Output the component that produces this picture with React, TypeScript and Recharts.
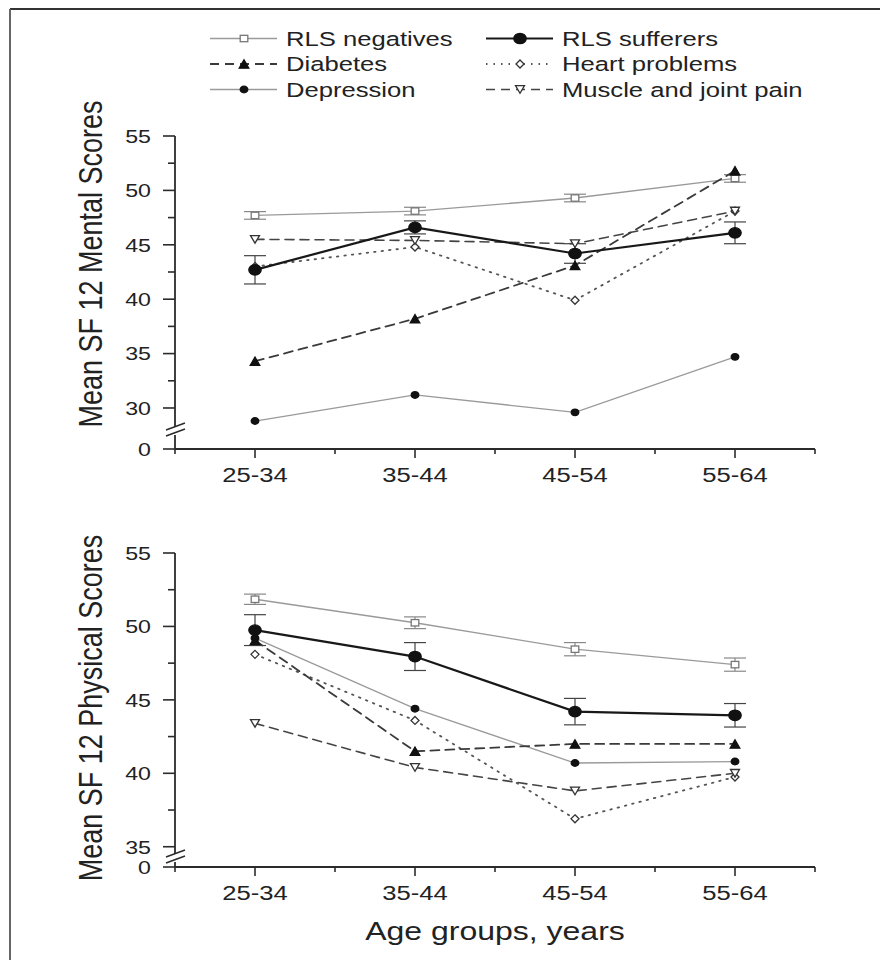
import React from 'react';
import { LineChart, Line, XAxis, YAxis, ErrorBar } from 'recharts';

const ageGroups = ['25-34', '35-44', '45-54', '55-64'];

// Mental SF-12 scores
const mentalNegatives = [47.7, 48.1, 49.3, 51.1];
const mentalNegativesErr = [0.35, 0.35, 0.35, 0.35];
const mentalSufferers = [42.7, 46.6, 44.2, 46.1];
const mentalSufferersErr = [1.3, 0.6, 0.9, 1.0];
const mentalDiabetes = [34.3, 38.2, 43.1, 51.8];
const mentalHeart = [43.0, 44.8, 39.9, 48.1];
const mentalDepression = [28.8, 31.2, 29.6, 34.7];
const mentalMuscle = [45.5, 45.4, 45.1, 48.1];

// Physical SF-12 scores
const physicalNegatives = [51.85, 50.25, 48.45, 47.4];
const physicalNegativesErr = [0.35, 0.4, 0.45, 0.45];
const physicalSufferers = [49.75, 47.95, 44.2, 43.95];
const physicalSufferersErr = [1.05, 0.95, 0.9, 0.8];
const physicalDiabetes = [49.05, 41.5, 42.0, 42.0];
const physicalHeart = [48.1, 43.6, 36.9, 39.75];
const physicalDepression = [49.2, 44.4, 40.7, 40.8];
const physicalMuscle = [43.4, 40.4, 38.8, 40.0];

// y-axis: the lowest tick is the broken "0"
const mentalBreak = 26.23;
const mentalTicks = [mentalBreak, 30, 32.5, 35, 37.5, 40, 42.5, 45, 47.5, 50, 52.5, 55];
const physicalBreak = 33.62;
const physicalTicks = [physicalBreak, 35, 37.5, 40, 42.5, 45, 47.5, 50, 52.5, 55];
const xTicks = [0.5, 1, 1.5, 2, 2.5, 3, 3.5, 4, 4.5];

const FONT = '"Liberation Sans", Arial, Helvetica, sans-serif';
const TEXT = '#222';
const AXIS = '#2b2b2b';
const SX = 1.22;

const buildRows = (
  neg: number[], negErr: number[], suf: number[], sufErr: number[],
  dia: number[], heart: number[], dep: number[], mus: number[]
) =>
  ageGroups.map((g, i) => ({
    x: i + 1,
    group: g,
    negatives: neg[i],
    negativesErr: negErr[i],
    sufferers: suf[i],
    sufferersErr: sufErr[i],
    diabetes: dia[i],
    heart: heart[i],
    depression: dep[i],
    muscle: mus[i],
  }));

const mentalRows = buildRows(mentalNegatives, mentalNegativesErr, mentalSufferers, mentalSufferersErr,
  mentalDiabetes, mentalHeart, mentalDepression, mentalMuscle);
const physicalRows = buildRows(physicalNegatives, physicalNegativesErr, physicalSufferers, physicalSufferersErr,
  physicalDiabetes, physicalHeart, physicalDepression, physicalMuscle);

type Shape = 'square' | 'circle' | 'triangle' | 'down' | 'diamond';

interface SeriesStyle {
  key: string;
  name: string;
  stroke: string;
  width: number;
  dash?: string;
  shape: Shape;
  fill: string;
  mStroke: string;
  rx: number;
  ry: number;
  errKey?: string;
  errColor?: string;
}

const styles: Record<string, SeriesStyle> = {
  negatives: { key: 'negatives', name: 'RLS negatives', stroke: '#9a9a9a', width: 1.3, shape: 'square', fill: '#fff', mStroke: '#777', rx: 3.8, ry: 3.2, errKey: 'negativesErr', errColor: '#888' },
  sufferers: { key: 'sufferers', name: 'RLS sufferers', stroke: '#181818', width: 2.2, shape: 'circle', fill: '#111', mStroke: '#111', rx: 6.2, ry: 5.2, errKey: 'sufferersErr', errColor: '#444' },
  diabetes: { key: 'diabetes', name: 'Diabetes', stroke: '#3a3a3a', width: 1.8, dash: '9 6', shape: 'triangle', fill: '#111', mStroke: '#111', rx: 4.8, ry: 4.2 },
  heart: { key: 'heart', name: 'Heart problems', stroke: '#555', width: 1.8, dash: '1.5 6', shape: 'diamond', fill: '#fff', mStroke: '#333', rx: 4, ry: 4 },
  depression: { key: 'depression', name: 'Depression', stroke: '#9a9a9a', width: 1.3, shape: 'circle', fill: '#111', mStroke: '#111', rx: 3.8, ry: 3.3 },
  muscle: { key: 'muscle', name: 'Muscle and joint pain', stroke: '#444', width: 1.6, dash: '9 6', shape: 'down', fill: '#fff', mStroke: '#333', rx: 4.5, ry: 3.8 },
};

const drawOrder = ['negatives', 'depression', 'heart', 'muscle', 'diabetes', 'sufferers'];
const legendRows = [
  ['negatives', 'sufferers'],
  ['diabetes', 'heart'],
  ['depression', 'muscle'],
];

const Marker = ({ s, cx, cy }: { s: SeriesStyle; cx: number; cy: number }) => {
  const { rx, ry, fill, mStroke } = s;
  const common = { fill, stroke: mStroke, strokeWidth: 1.3 };
  switch (s.shape) {
    case 'square':
      return <rect x={cx - rx} y={cy - ry} width={rx * 2} height={ry * 2} {...common} />;
    case 'circle':
      return <ellipse cx={cx} cy={cy} rx={rx} ry={ry} {...common} />;
    case 'triangle':
      return <polygon points={`${cx},${cy - ry} ${cx + rx},${cy + ry} ${cx - rx},${cy + ry}`} {...common} />;
    case 'down':
      return <polygon points={`${cx - rx},${cy - ry} ${cx + rx},${cy - ry} ${cx},${cy + ry}`} {...common} />;
    case 'diamond':
      return <polygon points={`${cx},${cy - ry} ${cx + rx},${cy} ${cx},${cy + ry} ${cx - rx},${cy}`} {...common} />;
  }
  return null;
};

const makeDot = (s: SeriesStyle) => (props: any) => {
  const { cx, cy, index } = props;
  if (cx == null || cy == null) return <g key={`${s.key}-${index}`} />;
  return (
    <g key={`${s.key}-${index}`}>
      <Marker s={s} cx={cx} cy={cy} />
    </g>
  );
};

const makeYTick = (breakValue: number) => (props: any) => {
  const { x, y, payload } = props;
  const v = payload.value as number;
  const isBreak = Math.abs(v - breakValue) < 1e-6;
  const major = isBreak || Math.abs(v - Math.round(v / 5) * 5) < 1e-6;
  const len = major ? 12 : 7;
  return (
    <g>
      <line x1={x - len} y1={y} x2={x} y2={y} stroke={AXIS} strokeWidth={1.6} />
      {major && (
        <text
          transform={`translate(${x - 24},${y}) scale(${SX},1)`}
          textAnchor="end"
          dy="0.36em"
          fontSize={19}
          fontFamily={FONT}
          fill={TEXT}
        >
          {isBreak ? '0' : v}
        </text>
      )}
    </g>
  );
};

const XTick = (props: any) => {
  const { x, y, payload } = props;
  const v = payload.value as number;
  const major = Number.isInteger(v);
  return (
    <g>
      <line x1={x} y1={y} x2={x} y2={y + (major ? 9 : 5)} stroke={AXIS} strokeWidth={1.6} />
      {major && (
        <text
          transform={`translate(${x},${y + 25}) scale(${SX},1)`}
          textAnchor="middle"
          dy="0.36em"
          fontSize={21}
          fontFamily={FONT}
          fill={TEXT}
        >
          {ageGroups[v - 1]}
        </text>
      )}
    </g>
  );
};

interface PanelProps {
  rows: any[];
  domain: [number, number];
  ticks: number[];
  breakValue: number;
  top: number;
  height: number;
  marginTop: number;
  marginBottom: number;
}

const Panel = ({ rows, domain, ticks, breakValue, top, height, marginTop, marginBottom }: PanelProps) => (
  <div style={{ position: 'absolute', left: 0, top, width: 880, height }}>
    <LineChart
      width={880}
      height={height}
      data={rows}
      margin={{ top: marginTop, right: 65, bottom: marginBottom, left: 105 }}
    >
      <XAxis
        dataKey="x"
        type="number"
        domain={[0.5, 4.5]}
        ticks={xTicks}
        interval={0}
        tick={<XTick />}
        tickLine={false}
        tickSize={0}
        tickMargin={0}
        height={40}
        axisLine={{ stroke: AXIS, strokeWidth: 1.8 }}
        allowDataOverflow
      />
      <XAxis
        xAxisId="top"
        dataKey="x"
        type="number"
        orientation="top"
        domain={[0.5, 4.5]}
        tick={false}
        tickLine={false}
        height={0}
        axisLine={{ stroke: AXIS, strokeWidth: 1.8 }}
        allowDataOverflow
      />
      <YAxis
        type="number"
        domain={domain}
        ticks={ticks}
        interval={0}
        tick={makeYTick(breakValue)}
        tickLine={false}
        tickSize={0}
        tickMargin={0}
        width={70}
        axisLine={{ stroke: AXIS, strokeWidth: 1.8 }}
        allowDataOverflow
      />
      <YAxis
        yAxisId="right"
        orientation="right"
        type="number"
        domain={domain}
        tick={false}
        tickLine={false}
        width={0}
        axisLine={{ stroke: AXIS, strokeWidth: 1.8 }}
        allowDataOverflow
      />
      {drawOrder.map((k) => {
        const s = styles[k];
        return (
          <Line
            key={k}
            dataKey={k}
            type="linear"
            stroke={s.stroke}
            strokeWidth={s.width}
            strokeDasharray={s.dash}
            strokeLinecap="round"
            dot={makeDot(s)}
            activeDot={false}
            isAnimationActive={false}
          >
            {s.errKey && (
              <ErrorBar dataKey={s.errKey} width={11} strokeWidth={1.2} stroke={s.errColor} direction="y" />
            )}
          </Line>
        );
      })}
    </LineChart>
  </div>
);

const LegendItem = ({ s, x, y }: { s: SeriesStyle; x: number; y: number }) => (
  <g>
    <line x1={x} y1={y} x2={x + 67} y2={y} stroke={s.stroke} strokeWidth={s.width} strokeDasharray={s.dash} />
    <Marker s={s} cx={x + 34} cy={y} />
    <text
      transform={`translate(${x + 76},${y + 7}) scale(1.25,1)`}
      fontSize={20.5}
      fontFamily={FONT}
      fill={TEXT}
    >
      {s.name}
    </text>
  </g>
);

const BreakMark = ({ y }: { y: number }) => (
  <g>
    <rect x={169} y={y - 4} width={12} height={8} fill="#fff" />
    <line x1={166} y1={y - 1} x2={185} y2={y - 8} stroke={AXIS} strokeWidth={1.5} />
    <line x1={166} y1={y + 5} x2={185} y2={y - 2} stroke={AXIS} strokeWidth={1.5} />
  </g>
);

export default function App() {
  const legendY = [38.5, 64, 89.5];
  const legendX = [210, 486];
  return (
    <div style={{ position: 'absolute', left: 0, top: 0, width: 880, height: 960, background: '#fff', fontFamily: FONT }}>
      <Panel
        rows={mentalRows}
        domain={[mentalBreak, 55]}
        ticks={mentalTicks}
        breakValue={mentalBreak}
        top={0}
        height={500}
        marginTop={136}
        marginBottom={11}
      />
      <Panel
        rows={physicalRows}
        domain={[physicalBreak, 55]}
        ticks={physicalTicks}
        breakValue={physicalBreak}
        top={480}
        height={440}
        marginTop={73}
        marginBottom={13}
      />
      <svg
        width={880}
        height={960}
        style={{ position: 'absolute', left: 0, top: 0, pointerEvents: 'none' }}
      >
        <line x1={10} y1={9} x2={880} y2={9} stroke="#333" strokeWidth={2} />
        <line x1={10} y1={9} x2={10} y2={960} stroke="#666" strokeWidth={2} />
        {legendRows.map((row, r) =>
          row.map((k, c) => <LegendItem key={k} s={styles[k]} x={legendX[c]} y={legendY[r]} />)
        )}
        <text
          transform={`translate(102,264) rotate(-90) scale(1,${SX})`}
          textAnchor="middle"
          fontSize={27}
          fontFamily={FONT}
          fill={TEXT}
        >
          Mean SF 12 Mental Scores
        </text>
        <text
          transform={`translate(102,708) rotate(-90) scale(1,${SX})`}
          textAnchor="middle"
          fontSize={27}
          fontFamily={FONT}
          fill={TEXT}
        >
          Mean SF 12 Physical Scores
        </text>
        <text
          transform={`translate(495,940) scale(1.28,1)`}
          textAnchor="middle"
          fontSize={25}
          fontFamily={FONT}
          fill={TEXT}
        >
          Age groups, years
        </text>
        <BreakMark y={431} />
        <BreakMark y={858} />
      </svg>
    </div>
  );
}
